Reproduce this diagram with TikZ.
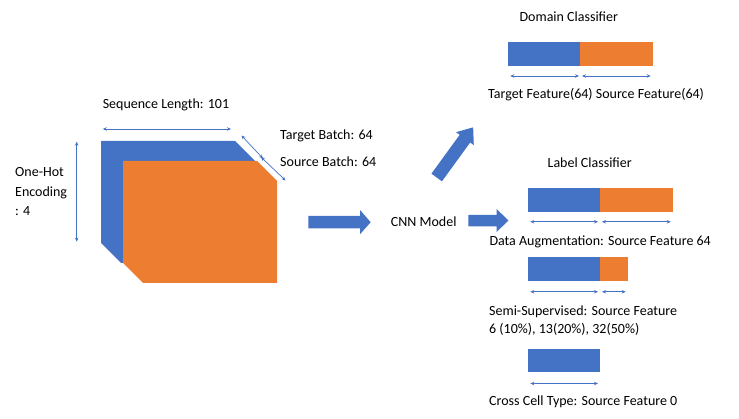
\documentclass[tikz,border=0pt]{standalone}
\usepackage{fontspec}
\setmainfont{Carlito}
\usetikzlibrary{arrows.meta}
\definecolor{cblue}{HTML}{4472C4}
\definecolor{corange}{HTML}{ED7D31}
\begin{document}
\begin{tikzpicture}[x=1pt,y=-1pt,
  lbl/.style={font=\fontsize{14}{17}\selectfont, inner sep=0pt, text=black},
  dim/.style={draw=cblue, line width=0.7pt, {Stealth[length=4pt,width=3.5pt]}-{Stealth[length=4pt,width=3.5pt]}},
  bar/.style={inner sep=0pt, outer sep=0pt, minimum height=23.5pt, anchor=north west},
  bluebar/.style={bar, fill=cblue},
  orangebar/.style={bar, fill=corange},
  blockarrow/.style={fill=cblue}]
\useasboundingbox (0,0) rectangle (739,419);

% cube (two stacked batches)
\fill[cblue] (101,141) -- (235,141) -- (257,163) -- (257,263) -- (121,263) -- (101,243) -- cycle;
\fill[corange] (123,161) -- (257,161) -- (277,181) -- (277,283) -- (143,283) -- (123,263) -- cycle;

\coordinate (seqA) at (102.7,129);
\coordinate (seqB) at (231,129);
\coordinate (ohA) at (76.7,141.7);
\coordinate (ohB) at (76.7,241.7);
\coordinate (tbA) at (241.5,135.5);
\coordinate (tbB) at (263,158.5);
\coordinate (sbA) at (261,157);
\coordinate (sbB) at (285.5,180.5);
\draw[dim] (seqA) -- (seqB);
\draw[dim] (ohA) -- (ohB);
\draw[dim] (tbA) -- (tbB);
\draw[dim] (sbA) -- (sbB);

\node[lbl] (seqlen) at (166,105) {Sequence Length: 101};
\node[lbl, anchor=west] (tbatch) at (280,135.5) {Target Batch: 64};
\node[lbl, anchor=west] (sbatch) at (280,161.5) {Source Batch: 64};
\node[lbl, anchor=west, align=left, font=\fontsize{14}{19.5}\selectfont] (onehot) at (15,192) {One-Hot\\Encoding\\: 4};

% block arrows
\fill[blockarrow] (308.3,216) -- (360,216) -- (360,210) -- (370.7,222.2) -- (360,234.3) -- (360,228.3) -- (308.3,228.3) -- cycle;
\node[lbl] (cnn) at (423.7,221.7) {CNN Model};
\fill[blockarrow] (468.3,215) -- (496.7,215) -- (496.7,209) -- (508.3,220.5) -- (496.7,232) -- (496.7,226.5) -- (468.3,226.5) -- cycle;
\begin{scope}[shift={(436.7,177.5)}, rotate=54]
\fill[blockarrow] (0,-6.5) -- (48,-6.5) -- (48,-11) -- (62,0) -- (48,11) -- (48,6.5) -- (0,6.5) -- cycle;
\end{scope}

% domain classifier
\node[lbl] (domain) at (568.8,17) {Domain Classifier};
\node[bluebar, minimum width=71.7pt, minimum height=24pt] (dblue) at (508.3,41.7) {};
\node[orangebar, minimum width=72.7pt, minimum height=24pt] (dorange) at (580,41.7) {};
\draw[dim] ([xshift=2pt,yshift=-10.3pt]dblue.south west) -- ([xshift=-1pt,yshift=-10.3pt]dblue.south east);
\draw[dim] ([xshift=2pt,yshift=-10.3pt]dorange.south west) -- ([xshift=-2pt,yshift=-10.3pt]dorange.south east);
\node[lbl, anchor=west] (dfeat) at (488,95) {Target Feature(64) Source Feature(64)};

% label classifier
\node[lbl] (label) at (589.7,163) {Label Classifier};
\node[bluebar, minimum width=71.7pt] (ablue) at (528.3,188.3) {};
\node[orangebar, minimum width=72.7pt] (aorange) at (600,188.3) {};
\draw[dim] ([xshift=2pt,yshift=-10pt]ablue.south west) -- ([xshift=-2pt,yshift=-10pt]ablue.south east);
\draw[dim] ([xshift=2pt,yshift=-10pt]aorange.south west) -- ([xshift=-2pt,yshift=-10pt]aorange.south east);
\node[lbl, anchor=west] (aug) at (489.3,241.7) {Data Augmentation: Source Feature 64};

\node[bluebar, minimum width=71.7pt] (sblue) at (528.3,257.3) {};
\node[orangebar, minimum width=27.7pt] (sorange) at (600,257.3) {};
\draw[dim] ([xshift=2pt,yshift=-11pt]sblue.south west) -- ([xshift=-2pt,yshift=-11pt]sblue.south east);
\draw[dim] ([xshift=2pt,yshift=-11pt]sorange.south west) -- ([xshift=-2pt,yshift=-11pt]sorange.south east);
\node[lbl, anchor=west, align=left, font=\fontsize{14}{18}\selectfont] (semi) at (489,321) {Semi-Supervised: Source Feature\\6 (10\%), 13(20\%), 32(50\%)};

\node[bluebar, minimum width=71.7pt] (cblue) at (528.3,349) {};
\draw[dim] ([xshift=2pt,yshift=-11pt]cblue.south west) -- ([xshift=-2pt,yshift=-11pt]cblue.south east);
\node[lbl, anchor=west] (cross) at (489,402) {Cross Cell Type: Source Feature 0};
\end{tikzpicture}
\end{document}
